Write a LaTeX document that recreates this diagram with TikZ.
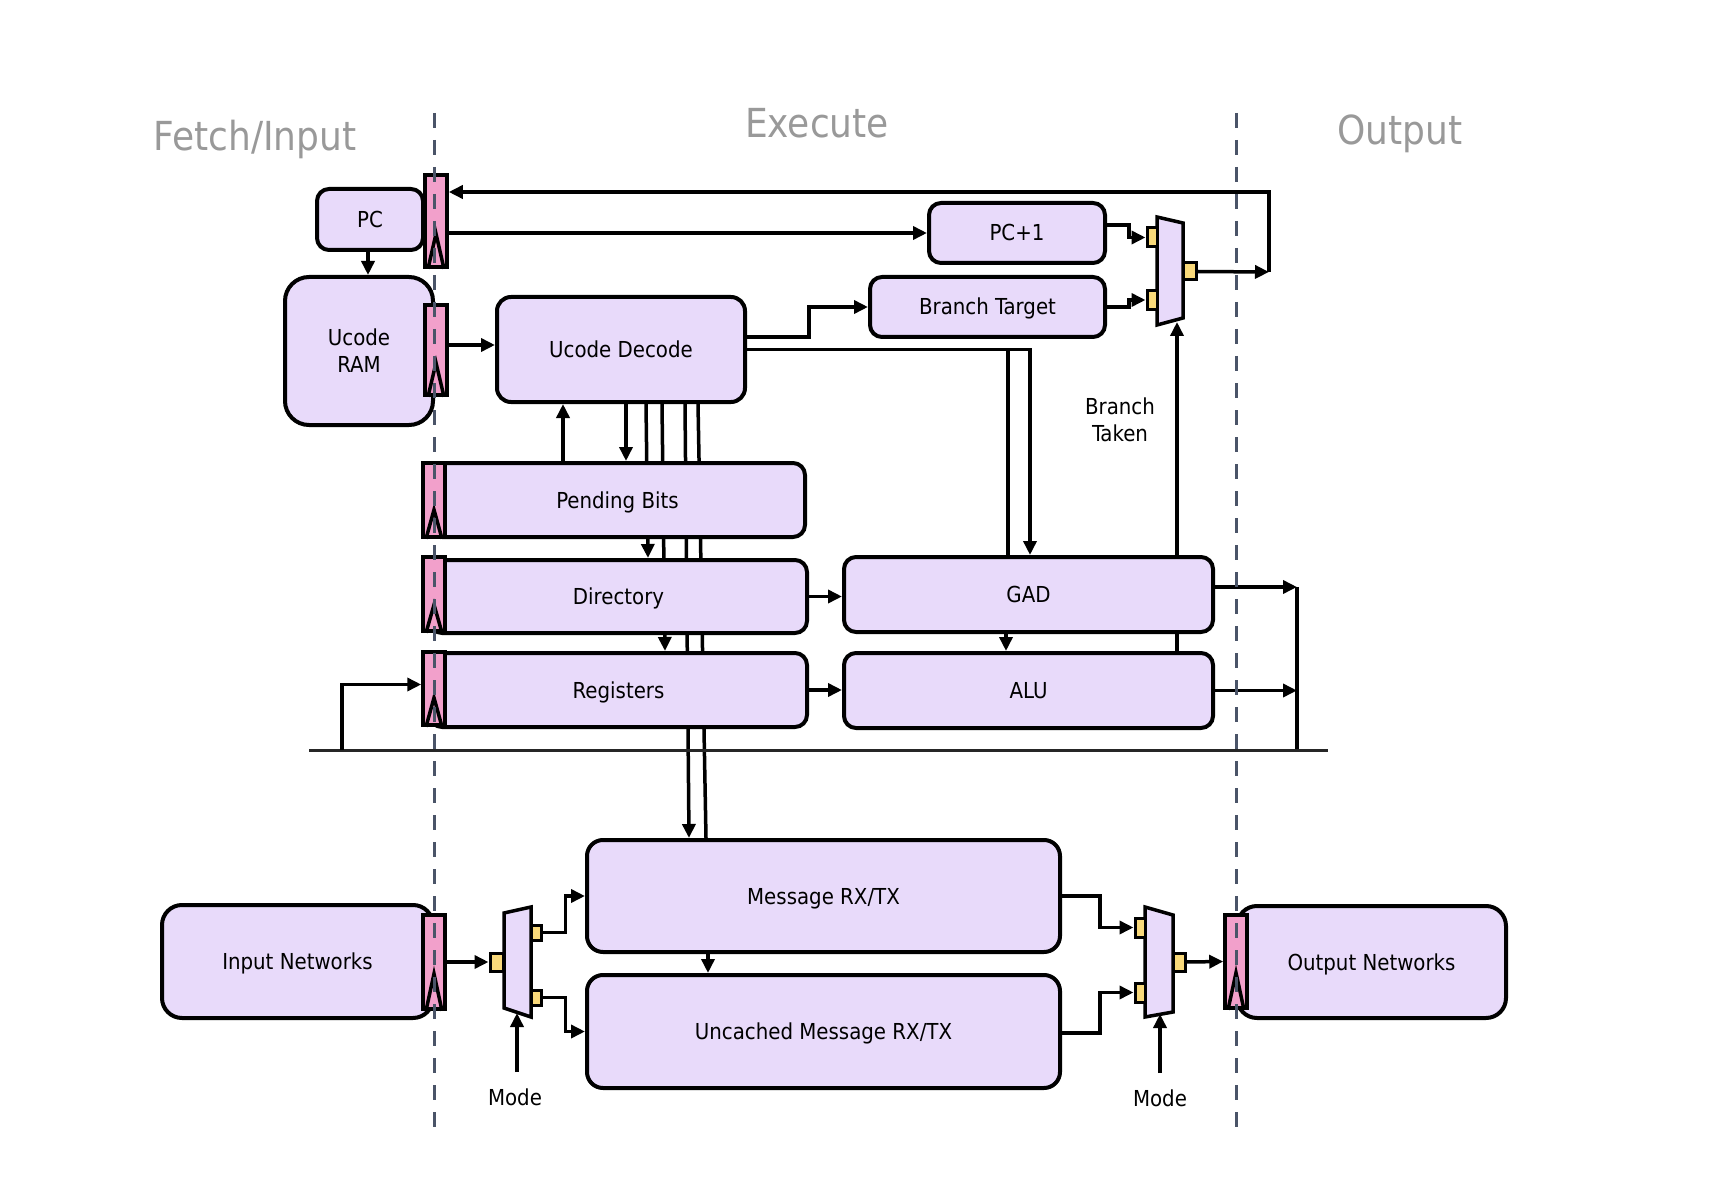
\documentclass[tikz,border=0pt]{standalone}
\usepackage{fontspec}
\setmainfont{DejaVu Sans Condensed}
\usetikzlibrary{arrows.meta,backgrounds}
\definecolor{boxfill}{HTML}{E8DAFA}
\definecolor{regpink}{HTML}{F2A0CB}
\definecolor{portyel}{HTML}{F9D97A}
\definecolor{dashcol}{HTML}{4A5468}
\definecolor{titlegray}{HTML}{999999}
\begin{document}
\begin{tikzpicture}[x=1pt,y=-1pt,
  box/.style={draw,line width=4pt,fill=boxfill,rounded corners=12pt,inner sep=0pt,align=center,font=\fontsize{22}{27}\selectfont},
  onel/.style={text height=16pt,text depth=0pt},
  regbar/.style={draw,line width=3.5pt,fill=regpink,inner sep=0pt,minimum width=22pt},
  port/.style={draw,line width=3pt,fill=portyel,inner sep=0pt,minimum width=10pt,minimum height=17pt},
  muxshape/.style={draw,line width=3.5pt,fill=boxfill,line join=miter},
  conn/.style={line width=3.5pt},
  arr/.style={conn,-{Triangle[length=14pt,width=13pt]}},
  lbl/.style={inner sep=0pt,align=center,font=\fontsize{22}{27}\selectfont},
  ttl/.style={inner sep=0pt,anchor=base,text=titlegray,font=\fontsize{40}{45}\selectfont},
  stage/.style={draw=dashcol,line width=3pt,dash pattern=on 15pt off 12pt},
  clk/.style={line width=3.5pt,line join=miter}
]
\useasboundingbox (0,0) rectangle (1714,1198);

% ---------- titles ----------
\node[ttl] (tfetch) at (255,151) {Fetch/Input};
\node[ttl] (texec) at (817,138) {Execute};
\node[ttl] (tout) at (1400,145) {Output};

% ---------- boxes ----------
\node[box,onel,minimum width=106pt,minimum height=61pt] (pc) at (370,219.5) {PC};
\node[box,rounded corners=24pt,minimum width=148pt,minimum height=148pt] (ram) at (359,351) {Ucode\\RAM};
\node[box,onel,rounded corners=14pt,minimum width=248pt,minimum height=105pt] (dec) at (621,349.5) {Ucode Decode};
\node[box,onel,minimum width=176pt,minimum height=60pt] (pc1) at (1017,233) {PC+1};
\node[box,onel,minimum width=235pt,minimum height=60pt] (bt) at (987.5,307) {Branch Target};
\node[box,onel,minimum width=375pt,minimum height=74pt] (pend) at (617.5,500) {Pending Bits};
\node[box,onel,minimum width=377pt,minimum height=73pt] (dir) at (618.5,596.5) {Directory};
\node[box,onel,minimum width=377pt,minimum height=74pt] (regs) at (618.5,690) {Registers};
\node[box,onel,minimum width=369pt,minimum height=75pt] (gad) at (1028.5,594.5) {GAD};
\node[box,onel,minimum width=369pt,minimum height=75pt] (alu) at (1028.5,690.5) {ALU};
\node[box,onel,rounded corners=16pt,minimum width=473pt,minimum height=112pt] (msg) at (823.5,896) {Message RX/TX};
\node[box,onel,rounded corners=16pt,minimum width=473pt,minimum height=113pt] (umsg) at (823.5,1031.5) {Uncached Message RX/TX};
\node[box,onel,rounded corners=20pt,minimum width=271pt,minimum height=113pt] (innet) at (297.5,961.5) {Input Networks};
\node[box,onel,rounded corners=20pt,minimum width=269pt,minimum height=112pt] (outnet) at (1371.5,962) {Output Networks};

% ---------- helper coordinates ----------
\coordinate (xpr) at (368,0);
\coordinate (yram) at (0,345);
\coordinate (xa) at (563,0);
\coordinate (xb1) at (626,0);
\coordinate (xb2t) at (646,0);
\coordinate (xb2b) at (648,0);
\coordinate (xb3t) at (662,0);
\coordinate (xb3b) at (665,0);
\coordinate (xb4t) at (685,0);
\coordinate (xb4b) at (689,0);
\coordinate (xb5t) at (698,0);
\coordinate (xb5b) at (706,0);
\coordinate (xg1) at (1008,0);
\coordinate (xg2) at (1030,0);
\coordinate (xga) at (1006,0);
\coordinate (mbot) at (1177,322);
\coordinate (fbB) at (1269,272);
\coordinate (fbT) at (1269,192);
\coordinate (col) at (1297,0);
\coordinate (colT) at (1297,587);
\coordinate (colB) at (1297,752);
\coordinate (busL) at (309,750);
\coordinate (busR) at (1328,750);
\coordinate (rin) at (342,750);
\coordinate (xmu) at (708,0);
\coordinate (modeLs) at (517,1072);
\coordinate (modeLe) at (517,1013);
\coordinate (modeRs) at (1160,1073);
\coordinate (modeRe) at (1160,1014);

% ---------- connectors behind boxes ----------
\begin{pgfonlayer}{background}
  \draw[arr] (pend.north -| xa) -- (dec.south -| xa);
  \draw[arr] (dec.south -| xb1) -- (pend.north -| xb1);
  \draw[arr] (dec.south -| xb2t) -- (dir.north -| xb2b);
  \draw[arr] (dec.south -| xb3t) -- (regs.north -| xb3b);
  \draw[arr] (dec.south -| xb4t) -- (msg.north -| xb4b);
  \draw[conn] (dec.south -| xb5t) -- (msg.north -| xb5b);
  \draw[arr] (alu.north -| mbot) -- (mbot);
\end{pgfonlayer}

% ---------- multiplexers ----------
\draw[muxshape] (1157,217) -- (1183,223) -- (1183,318) -- (1157,325) -- cycle;
\draw[muxshape] (504,913) -- (531,907) -- (531,1017) -- (504,1008) -- cycle;
\draw[muxshape] (1145,907) -- (1173,915) -- (1173,1012) -- (1145,1017) -- cycle;
\node[port,minimum height=19pt] (mp1) at (1152,237.5) {};
\node[port,minimum height=19pt] (mp2) at (1152,300) {};
\node[port,minimum width=13pt] (mout) at (1190,271.5) {};
\node[port,minimum width=13pt,minimum height=18pt] (dp) at (496.5,962) {};
\node[port,minimum height=15pt] (do1) at (536,932.5) {};
\node[port,minimum height=15pt] (do2) at (536,997.5) {};
\node[port,minimum height=19pt] (oi1) at (1140,927.5) {};
\node[port,minimum height=19pt] (oi2) at (1140,992.5) {};
\node[port,minimum width=12pt,minimum height=18pt] (oo) at (1179,962) {};

% ---------- labels ----------
\node[lbl] (btaken) at (1120,420) {Branch\\Taken};
\node[lbl] (modeL) at (515,1097) {Mode};
\node[lbl] (modeR) at (1160,1098) {Mode};

% ---------- pipeline registers ----------
\node[regbar,minimum height=92pt] (r1) at (436,221) {};
\node[regbar,minimum height=90pt] (r2) at (436,350) {};
\node[regbar,minimum height=74pt] (r3) at (434,500) {};
\node[regbar,minimum height=74pt] (r4) at (434,594) {};
\node[regbar,minimum height=73pt] (r5) at (434,688.5) {};
\node[regbar,minimum height=94pt] (r6) at (434,962) {};
\node[regbar,minimum height=93pt] (r7) at (1236,961.5) {};
\foreach \b/\h in {r1/35,r2/34,r3/29,r4/28,r5/29,r6/37,r7/37}{
  \draw[clk] ([xshift=-8pt]\b.south) -- ([yshift=\h pt]\b.south) -- ([xshift=8pt]\b.south);
}

% ---------- connectors ----------
\draw[arr] (pc.south -| xpr) -- (ram.north -| xpr);
\draw[arr] (r2.east |- yram) -- (dec.west |- yram);
\draw[arr] (r1.east |- pc1.west) -- (pc1.west);
\draw[arr] (mout.east) -- (fbB);
\draw[arr] (fbB) -- (fbT) -- (r1.east |- fbT);
\draw[arr] ([yshift=8pt]pc1.east) -- ++(22,0) |- (mp1.west);
\draw[arr] (bt.east) -- ++(22,0) |- (mp2.west);
\draw[arr] ([yshift=12.5pt]dec.east) -- ++(62,0) |- (bt.west);
\draw[arr] (dec.east) -- (dec.east -| xg2) -- (gad.north -| xg2);
\draw[conn] (dec.east -| xg1) -- (gad.north -| xg1);
\draw[arr] (gad.south -| xga) -- (alu.north -| xga);
\draw[arr] (dir.east) -- (dir.east -| gad.west);
\draw[arr] (regs.east) -- (regs.east -| alu.west);
\draw[arr] ([yshift=7.5pt]gad.east) -- (colT);
\draw[arr] (alu.east) -- (alu.east -| col);
\draw[conn] (colT) -- (colB);
\draw[line width=3pt,draw=black!85] (busL) -- (busR);
\draw[arr] (rin) |- ([yshift=4pt]r5.west);

\draw[arr] (r6.east) -- (dp.west);
\draw[arr] (do1.east) -- ++(23,0) |- (msg.west);
\draw[arr] (do2.east) -- ++(23,0) |- (umsg.west);
\draw[arr] (modeLs) -- (modeLe);
\draw[arr] (msg.south -| xmu) -- (umsg.north -| xmu);
\draw[arr] (msg.east) -- ++(38,0) |- (oi1.west);
\draw[arr] ([yshift=-1.5pt]umsg.east) -- ++(38,0) |- (oi2.west);
\draw[arr] (oo.east) -- (r7.west);
\draw[arr] (modeRs) -- (modeRe);

% ---------- stage boundaries ----------
\coordinate (s1t) at (434,113);
\coordinate (s1b) at (434,1137);
\coordinate (s2t) at (1236,113);
\coordinate (s2b) at (1236,1137);
\draw[stage] (s1t) -- (s1b);
\draw[stage] (s2t) -- (s2b);
\end{tikzpicture}
\end{document}
